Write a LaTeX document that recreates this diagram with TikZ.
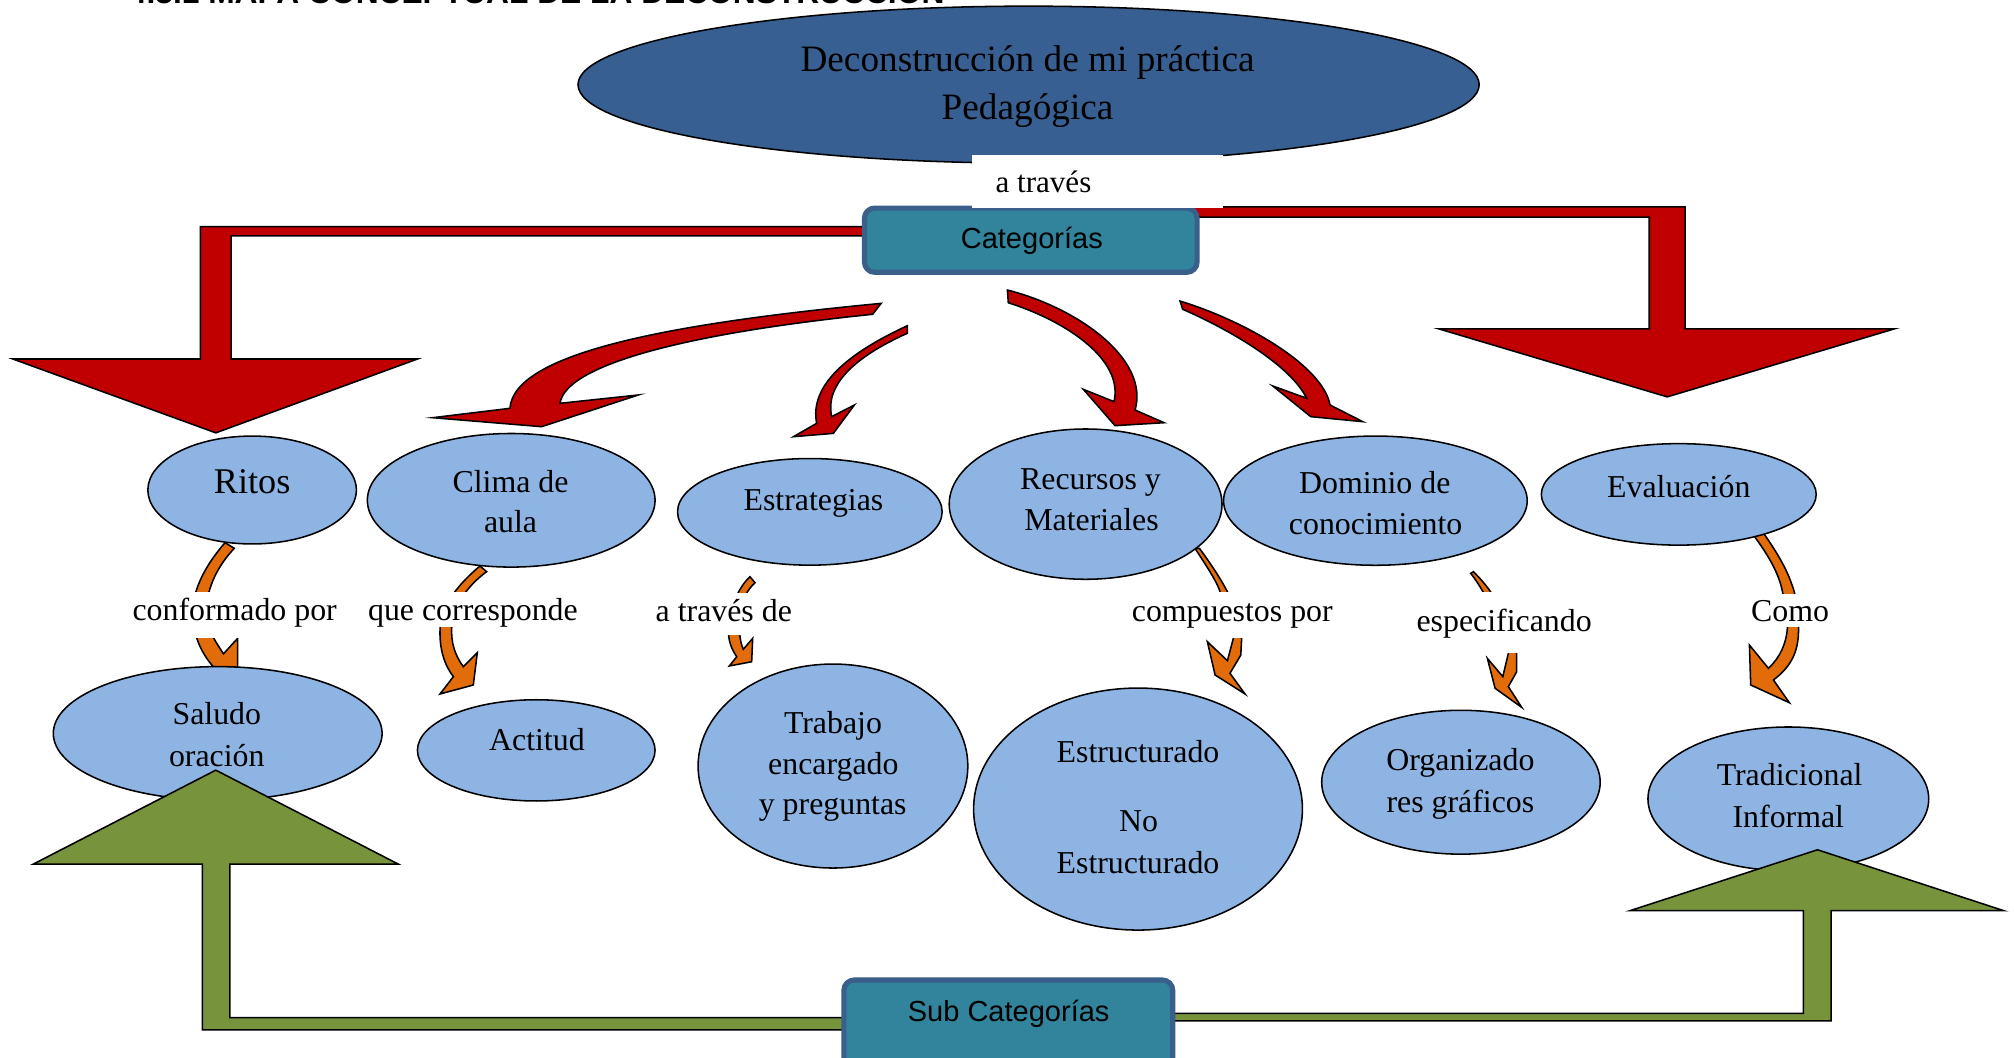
\documentclass[tikz,border=0pt]{standalone}
\usepackage{fontspec}
\setmainfont{Liberation Serif}
\newfontfamily\arialfont{Liberation Sans}
\usetikzlibrary{shapes.geometric}
\definecolor{dkblue}{HTML}{375F91}
\definecolor{ltblue}{HTML}{8EB4E3}
\definecolor{boxteal}{HTML}{31849B}
\definecolor{boxedge}{HTML}{3A5F8B}
\definecolor{redarrow}{HTML}{C00000}
\definecolor{orangearrow}{HTML}{E36C0A}
\definecolor{greenarrow}{HTML}{77933C}
\tikzset{
 concept/.style={ellipse, draw=black, line width=0.6pt, fill=ltblue, inner sep=0pt},
 catbox/.style={rectangle, draw=boxedge, line width=2pt, fill=boxteal, rounded corners=4pt, inner sep=0pt},
 whitebg/.style={rectangle, fill=white, draw=none, inner sep=0pt},
 redblock/.style={fill=redarrow, draw=black, line width=0.6pt},
 orangeblock/.style={fill=orangearrow, draw=black, line width=0.6pt},
 greenblock/.style={fill=greenarrow, draw=black, line width=0.6pt},
 txt/.style={anchor=base, inner sep=0pt, text=black, font=\fontsize{12.4}{15}\selectfont},
 bigtxt/.style={txt, font=\fontsize{14.5}{17}\selectfont},
 ritostxt/.style={txt, font=\fontsize{14.1}{17}\selectfont},
 sanstxt/.style={txt, font=\arialfont\fontsize{11.3}{13.5}\selectfont},
}
\begin{document}
\begin{tikzpicture}[x=0.5pt,y=-0.5pt]
\useasboundingbox (0,0) rectangle (1568,823);
\fill[white] (0,0) rectangle (1568,823);

% clipped heading at the top edge
\node[anchor=base west, inner sep=0pt, font=\arialfont\bfseries\fontsize{12.35}{14}\selectfont] (title) at (100,3.1) {4.3.1 MAPA CONCEPTUAL DE LA DECONSTRUCCIÓN};

% main ellipse
\node[ellipse, draw=black, line width=0.6pt, fill=dkblue, inner sep=0pt, minimum width=350.8pt, minimum height=61.1pt] (main) at (800.8,65.9) {};

% red elbow arrows
\draw[redblock] (700,176.5) -- (156,176.5) -- (156,279.5) -- (10,279.5) -- (168,337) -- (325,279.5) -- (180,279.5) -- (180,183.7) -- (700,183.7) -- cycle;
\draw[redblock] (920,161) -- (1312,161) -- (1312,256) -- (1475,256) -- (1298,309) -- (1120,256) -- (1284,256) -- (1284,169) -- (920,169) -- cycle;

% Categorias box
\node[catbox, minimum width=129.5pt, minimum height=25pt] (cat) at (802.5,187) {};

% white label under the main ellipse
\node[whitebg, minimum width=97.5pt, minimum height=20.35pt] (atravesbg) at (854.5,141.35) {};

% red curved arrows
\draw[redblock] (686,236.2) .. controls (520,252) and (400,275) .. (397,317.9) -- (336.9,325.2) -- (421.7,332.2) -- (497,307.5) -- (436,314) .. controls (440,285) and (530,260) .. (679.4,244.7) -- cycle;
\draw[redblock] (706.4,253.6) .. controls (660,275) and (630,300) .. (635.8,329.6) -- (617.7,340) -- (648.8,337.4) -- (665.2,315.3) -- (647.5,324.4) .. controls (642,300) and (665,278) .. (706.4,259.5) -- cycle;
\draw[redblock] (784.3,225.8) .. controls (840,240) and (895,280) .. (883.7,319.2) -- (906.3,329.1) -- (868.1,331.4) -- (843.4,303.1) -- (867.3,312.7) .. controls (875,280) and (830,250) .. (785,235.7) -- cycle;
\draw[redblock] (918.7,234.4) .. controls (970,250) and (1030,285) .. (1035.5,315.3) -- (1061,328.3) -- (1020.5,324.4) -- (990.9,300.5) -- (1017.3,310.1) .. controls (1005,285) and (960,258) .. (920.8,240.8) -- cycle;

% orange curved arrows
\draw[orangeblock] (175.2,422.5) .. controls (160,440) and (149,460) .. (150,480) .. controls (151,497) and (158,510) .. (166,519) -- (185,522) -- (185,497) -- (174,509) .. controls (166,497) and (160,487) .. (160.5,476) .. controls (161,457) and (170,440) .. (182.4,426.9) -- cycle;
\draw[orangeblock] (373.7,440.7) .. controls (360,452) and (343,470) .. (342.6,490) .. controls (342,505) and (346,518) .. (353,526.8) -- (342.6,540.3) -- (368.5,533.3) -- (371.6,508.2) -- (360.7,519) .. controls (354,510) and (351,500) .. (351.7,488) .. controls (352,472) and (365,455) .. (378.9,445.1) -- cycle;
\draw[orangeblock] (583.9,449) .. controls (575,457) and (567,475) .. (567,490) .. controls (567,500) and (570,506) .. (573.6,511.3) -- (567.8,518.5) -- (585.2,515.2) -- (586,497) -- (578.7,505.5) .. controls (576,500) and (575,490) .. (576,478) .. controls (578,466) and (582,459) .. (587.8,453.7) -- cycle;
\draw[orangeblock] (930.4,426.9) .. controls (940,442) and (947,452) .. (949.9,460.7) .. controls (955,475) and (960,487) .. (960.2,497) -- (955.6,514.4) -- (940,499.6) -- (946,525.5) -- (969.3,540.3) -- (957.6,524.2) -- (966,510) -- (966.7,497) .. controls (966,485) and (960,472) .. (955.6,460.7) .. controls (950,450) and (942,438) .. (933.8,426.9) -- cycle;
\draw[orangeblock] (1145,446.4) .. controls (1152,455) and (1160,470) .. (1168,485) .. controls (1172,495) and (1174,502) .. (1174.3,508.7) -- (1170,526.8) -- (1158,512.6) -- (1164,535.9) -- (1184.7,550.7) -- (1174.3,534.6) -- (1180.8,523) -- (1180.8,508.7) .. controls (1180,495) and (1170,475) .. (1160,460) .. controls (1155,453) and (1150,448) .. (1147.1,445.1) -- cycle;
\draw[orangeblock] (1363.8,414.7) .. controls (1375,430) and (1385,445) .. (1388,462) .. controls (1391,472) and (1392,480) .. (1391.6,488.4) .. controls (1391,500) and (1386,512) .. (1376.8,520.3) -- (1362,502.2) -- (1363,533.3) -- (1393.1,547.1) -- (1380.7,529.4) .. controls (1393,520) and (1399,510) .. (1400.1,495) .. controls (1401,478) and (1398,462) .. (1395,455) .. controls (1390,440) and (1380,425) .. (1370.3,411.3) -- cycle;

% white label backgrounds
\node[whitebg, minimum width=83pt, minimum height=18.15pt] (confbg) at (183,478.85) {};
\node[whitebg, minimum width=84pt, minimum height=13.65pt] (quebg) at (368,474.35) {};
\node[whitebg, minimum width=54.5pt, minimum height=16.25pt] (atdbg) at (563.5,478.25) {};
\node[whitebg, minimum width=79.5pt, minimum height=18.15pt] (compbg) at (959.5,478.85) {};
\node[whitebg, minimum width=70pt, minimum height=24pt] (especbg) at (1171,484.7) {};
\node[whitebg, minimum width=31.5pt, minimum height=12.95pt] (comobg) at (1393.5,475.45) {};

% concept ellipses
\node[concept, minimum width=81.2pt, minimum height=42pt] (ritos) at (196.3,381.5) {};
\node[concept, minimum width=112pt, minimum height=52pt] (clima) at (398,389.5) {};
\node[concept, minimum width=103pt, minimum height=41.5pt] (estr) at (630.5,398.5) {};
\node[concept, minimum width=106.2pt, minimum height=58.5pt] (recursos) at (845.2,392.5) {};
\node[concept, minimum width=118.2pt, minimum height=50.3pt] (dominio) at (1070.8,389.8) {};
\node[concept, minimum width=107pt, minimum height=39.5pt] (evaluacion) at (1307,384.9) {};
\node[concept, minimum width=128pt, minimum height=52pt] (saludo) at (169.5,571) {};
\node[concept, minimum width=92.5pt, minimum height=39.4pt] (actitud) at (417.5,584.2) {};
\node[concept, minimum width=105pt, minimum height=79.4pt] (trabajo) at (648.5,596.4) {};
\node[concept, minimum width=128pt, minimum height=94.2pt] (estructurado) at (886,629.9) {};
\node[concept, minimum width=108.4pt, minimum height=56pt] (organizadores) at (1137.4,609) {};
\node[concept, minimum width=109.3pt, minimum height=56pt] (tradicional) at (1392.3,622) {};

% green elbow arrows
\draw[greenblock] (700,792.3) -- (179,792.3) -- (179,672.7) -- (310,672.7) -- (168,599.6) -- (26,672.7) -- (157.5,672.7) -- (157.5,801.8) -- (700,801.8) -- cycle;
\draw[greenblock] (880,789) -- (1404,789) -- (1404,709) -- (1269,709) -- (1415,661.6) -- (1560,709) -- (1425.6,709) -- (1425.6,794.8) -- (880,794.8) -- cycle;

% Sub Categorias box
\node[catbox, minimum width=128pt, minimum height=41pt] (subcat) at (785,804) {};

% texts
\node[bigtxt] (t-main-1) at (800,55.8) {Deconstrucción de mi práctica};
\node[bigtxt] (t-main-2) at (800,93.4) {Pedagógica};
\node[txt, anchor=base west, font=\fontsize{12.1}{15}\selectfont] (t-atraves) at (774.7,150) {a través};
\node[sanstxt] (t-cat) at (803.3,193.3) {Categorías};
\node[ritostxt] (t-ritos) at (196.3,384) {Ritos};
\node[txt] (t-clima-1) at (397.5,383.4) {Clima de};
\node[txt] (t-clima-2) at (397.5,414.7) {aula};
\node[txt] (t-estr) at (633.3,397.2) {Estrategias};
\node[txt] (t-rec-1) at (849,381.4) {Recursos y};
\node[txt] (t-rec-2) at (849.8,413.1) {Materiales};
\node[txt] (t-dom-1) at (1070.3,384.6) {Dominio de};
\node[txt] (t-dom-2) at (1071,416.2) {conocimiento};
\node[txt] (t-eval) at (1307,387.1) {Evaluación};
\node[txt] (t-sal-1) at (168.8,564.4) {Saludo};
\node[txt] (t-sal-2) at (168.8,596.6) {oración};
\node[txt] (t-act) at (418,584) {Actitud};
\node[txt] (t-trab-1) at (648.5,570.7) {Trabajo};
\node[txt] (t-trab-2) at (648.8,603) {encargado};
\node[txt] (t-trab-3) at (648.3,634) {y preguntas};
\node[txt] (t-est-1) at (886,593.5) {Estructurado};
\node[txt] (t-est-2) at (886.5,647.3) {No};
\node[txt] (t-est-3) at (886,680) {Estructurado};
\node[txt] (t-org-1) at (1137,599.8) {Organizado};
\node[txt] (t-org-2) at (1137,632.4) {res gráficos};
\node[txt] (t-trad-1) at (1393.3,611.9) {Tradicional};
\node[txt] (t-trad-2) at (1392.3,644.4) {Informal};
\node[sanstxt] (t-subcat) at (785.3,795.4) {Sub Categorías};
\node[txt] (l-conf) at (182.7,483.2) {conformado por};
\node[txt] (l-que) at (368.2,483.2) {que corresponde};
\node[txt] (l-atd) at (563.5,484) {a través de};
\node[txt] (l-comp) at (959.4,484) {compuestos por};
\node[txt] (l-espec) at (1171,491.8) {especificando};
\node[txt] (l-como) at (1393.7,484) {Como};
\end{tikzpicture}
\end{document}
